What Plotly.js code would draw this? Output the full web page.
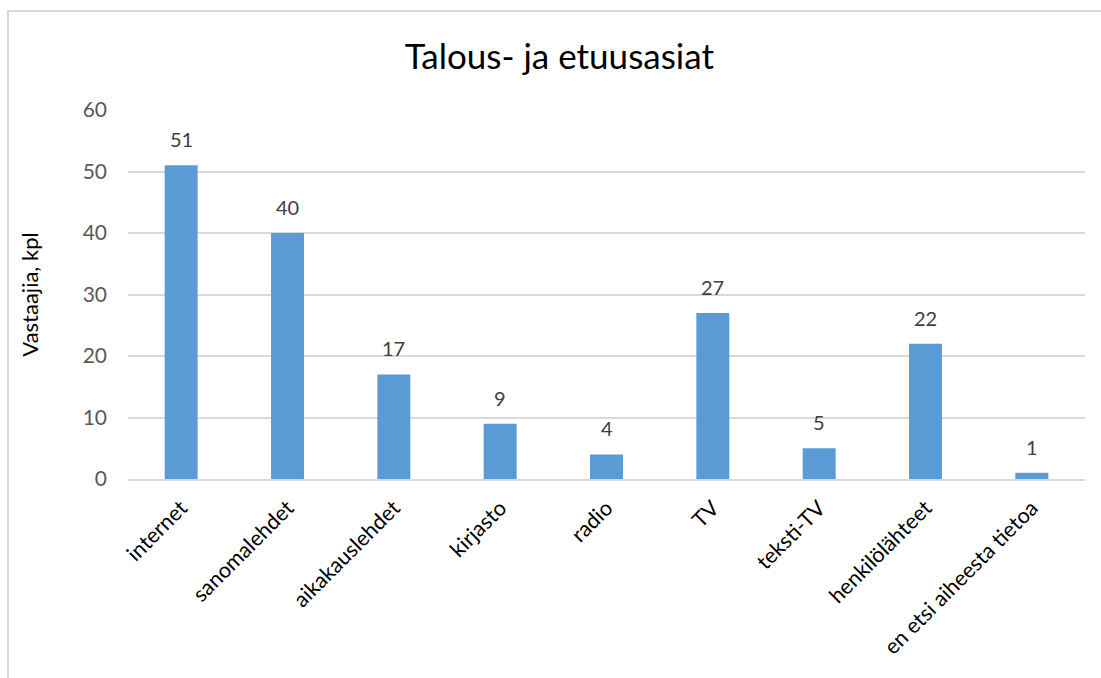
<!DOCTYPE html>
<html><head><meta charset="utf-8">
<script src="https://cdn.plot.ly/plotly-3.0.1.min.js"></script>
<style>html,body{margin:0;padding:0;background:#fff;}#chart{width:1101px;height:678px;}</style>
</head><body><div id="chart"></div>
<script>
const categories = ["internet","sanomalehdet","aikakauslehdet","kirjasto","radio","TV","teksti-TV","henkilölähteet","en etsi aiheesta tietoa"];
const values = [51,40,17,9,4,27,5,22,1];
const yTicks = [0,10,20,30,40,50,60];

const FONT = "Lato, 'Liberation Sans', sans-serif";
const annotations = categories.map((c,i)=>({
  x:c, y:values[i], xref:'x', yref:'y', text:String(values[i]), showarrow:false,
  yanchor:'bottom', yshift:12, font:{family:FONT,size:20,color:'#404040'}
}));

Plotly.newPlot('chart',[{
  type:'bar', x:categories, y:values, marker:{color:'#5B9BD5'}, hoverinfo:'x+y'
}],{
  width:1101, height:678,
  margin:{l:128,r:16,t:110,b:199},
  paper_bgcolor:'#fff', plot_bgcolor:'#fff',
  bargap:0.69,
  showlegend:false,
  title:{text:'Talous- ja etuusasiat', x:0.508, xanchor:'center', y:0.917, yanchor:'middle',
         font:{family:FONT,size:35,color:'#000'}},
  xaxis:{tickangle:-45, tickfont:{family:FONT,size:21.5,color:'#000'}, showline:true, linecolor:'#D9D9D9', linewidth:2,
         ticks:'', automargin:false, ticklabelstandoff:6},
  yaxis:{range:[0,60], tickvals:yTicks, tickfont:{family:FONT,size:21,color:'#595959'}, gridcolor:'#D9D9D9', gridwidth:2,
         zeroline:false, ticks:'', ticklen:0, automargin:false, ticklabelstandoff:20,
         title:{text:'Vastaajia, kpl', font:{family:FONT,size:22,color:'#000'}, standoff:37}},
  annotations: annotations,
  shapes:[{type:'rect', xref:'paper', yref:'paper', x0:-0.1254, x1:1.1, y0:-0.7, y1:1.268,
           line:{color:'#D9D9D9', width:2}, fillcolor:'rgba(0,0,0,0)', layer:'below'}]
},{displayModeBar:false, staticPlot:true});
</script></body></html>
